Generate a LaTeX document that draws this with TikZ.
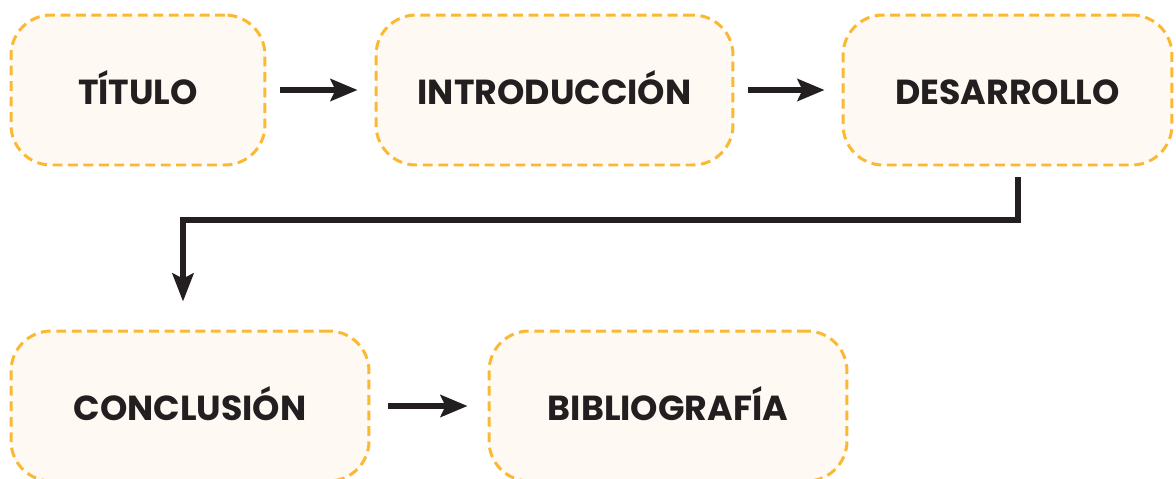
\documentclass[tikz,border=0pt]{standalone}
\usepackage{fontspec}
\setmainfont{Poppins}
\usepackage{xcolor}
\usetikzlibrary{arrows.meta}
\definecolor{boxfill}{HTML}{FEF9F2}
\definecolor{boxline}{HTML}{FBB933}
\definecolor{ink}{HTML}{231F20}
\begin{document}
\begin{tikzpicture}[
  x=0.02cm, y=-0.02cm,
  stage/.style={draw=boxline, fill=boxfill, line width=1.7pt, dash pattern=on 5.6pt off 3.2pt,
    rounded corners=0.8cm, minimum height=3.0cm, text=ink, text height=17pt, text depth=0pt,
    font=\bfseries\fontsize{19.8}{22}\selectfont},
  flow/.style={draw=ink, line width=3.4pt, -{Stealth[length=0.54cm,width=0.44cm,inset=0.1cm]},
    shorten <=0.28cm, shorten >=0.34cm}
]
\useasboundingbox (0,0) rectangle (1176,478);
\node[stage, minimum width=5.08cm] (titulo) at (138,90) {TÍTULO};
\node[stage, minimum width=7.14cm] (intro) at (554.5,90) {INTRODUCCIÓN};
\node[stage, minimum width=6.58cm] (desarrollo) at (1007.5,90) {DESARROLLO};
\node[stage, minimum width=7.16cm] (conclusion) at (190,406) {CONCLUSIÓN};
\node[stage, minimum width=7.16cm] (biblio) at (668,406) {BIBLIOGRAFÍA};

\draw[flow] (titulo) -- (intro);
\draw[flow] (intro) -- (desarrollo);
\draw[flow, -{Stealth[length=0.56cm,width=0.42cm,inset=0.1cm]}, shorten <=0.22cm, shorten >=0.56cm]
  ([xshift=0.21cm]desarrollo.south) -- ++(0,-1.08cm) -| ([xshift=-0.14cm]conclusion.north);
\draw[flow, shorten <=0.36cm, shorten >=0.4cm] (conclusion) -- (biblio);
\end{tikzpicture}
\end{document}
